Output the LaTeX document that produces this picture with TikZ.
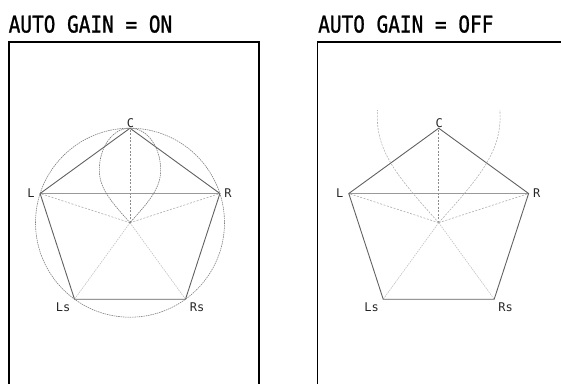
\documentclass[tikz,border=0pt]{standalone}
\usepackage{fontspec}
\newfontfamily\dispfont{DejaVu Sans Mono}
\newfontfamily\headfont[FakeBold=1.2]{DejaVu Sans Mono}
\tikzset{
  frameline/.style={draw=black, line width=1.3pt},
  side/.style={draw=black!62, line width=0.9pt},
  lrline/.style={draw=black!40, line width=1.8pt},
  spokeC/.style={draw=black!45, line width=0.6pt, dash pattern=on 2pt off 1.5pt},
  spokeF/.style={draw=black!32, line width=0.6pt, dash pattern=on 2pt off 1.5pt},
  spokeS/.style={draw=black!25, line width=0.6pt, dash pattern=on 1.5pt off 1pt},
  ring/.style={draw=black!50, line width=0.6pt, dash pattern=on 1.5pt off 0.8pt},
  loopline/.style={draw=black!52, line width=0.6pt, dash pattern=on 1.5pt off 0.8pt},
  bigloop/.style={draw=black!30, line width=0.6pt, dash pattern=on 2pt off 1.2pt},
  lbl/.style={font=\dispfont\fontsize{12}{12}\selectfont, inner sep=0pt, anchor=base, text=black!85},
  titletext/.style={font=\headfont\fontsize{20}{20}\selectfont, inner sep=0pt, anchor=base west},
}
\newcommand\speakerpanel[2]{%
  \coordinate (#1O) at ({130+#2},222.7);
  \coordinate (#1C) at ({130+#2},128.2);
  \coordinate (#1L) at ({40.1+#2},193.5);
  \coordinate (#1R) at ({219.9+#2},193.5);
  \coordinate (#1Ls) at ({74.5+#2},299.2);
  \coordinate (#1Rs) at ({185.5+#2},299.2);
  \draw[spokeS] (#1O) -- (#1Ls);
  \draw[spokeS] (#1O) -- (#1Rs);
  \draw[spokeF] (#1O) -- (#1L);
  \draw[spokeF] (#1O) -- (#1R);
  \draw[spokeC] (#1O) -- (#1C);
  \draw[lrline] (#1L) -- (#1R);
  \draw[side] (#1C) -- (#1L) -- (#1Ls) -- (#1Rs) -- (#1R) -- cycle;
  \node[lbl] (#1labC) at ({130.5+#2},127) {C};
  \node[lbl] (#1labL) at ({31+#2},197.5) {L};
  \node[lbl] (#1labR) at ({228+#2},197.5) {R};
  \node[lbl] (#1labLs) at ({63+#2},311) {Ls};
  \node[lbl] (#1labRs) at ({197+#2},311) {Rs};
}
\begin{document}
\begin{tikzpicture}[x=1pt, y=-1pt]
  \useasboundingbox (0,0) rectangle (561,383);
  % titles
  \node[titletext] (t1) at (8.5,32.5) {\scalebox{0.97}[1.15]{AUTO GAIN = ON}};
  \node[titletext] (t2) at (318,32.5) {\scalebox{0.97}[1.15]{AUTO GAIN = OFF}};
  % frames
  \draw[frameline] (9,384) -- (9,42) -- (259,42) -- (259,384);
  \draw[frameline] (317.7,384) -- (317.7,42) -- (562,42);
  % left panel
  \speakerpanel{a}{0}
  \draw[ring] (aO) circle[radius=94.5];
  \begin{scope}[shift={(aO)}]
    \draw[loopline] (0,0) .. controls (-19.5,-21.7) and (-30.7,-34.7) .. (-30.7,-52.7)
      .. controls (-30.7,-74) and (-18.5,-94.5) .. (0,-94.5)
      .. controls (18.5,-94.5) and (30.7,-74) .. (30.7,-52.7)
      .. controls (30.7,-34.7) and (19.5,-21.7) .. (0,0);
  \end{scope}
  % right panel
  \speakerpanel{b}{308.7}
  \begin{scope}
    \clip (318,110) rectangle (561,383);
    \begin{scope}[shift={(bO)}, scale=2]
      \draw[bigloop] (0,0) .. controls (-19.5,-21.7) and (-30.7,-34.7) .. (-30.7,-52.7)
        .. controls (-30.7,-74) and (-18.5,-94.5) .. (0,-94.5)
        .. controls (18.5,-94.5) and (30.7,-74) .. (30.7,-52.7)
        .. controls (30.7,-34.7) and (19.5,-21.7) .. (0,0);
    \end{scope}
  \end{scope}
\end{tikzpicture}
\end{document}
